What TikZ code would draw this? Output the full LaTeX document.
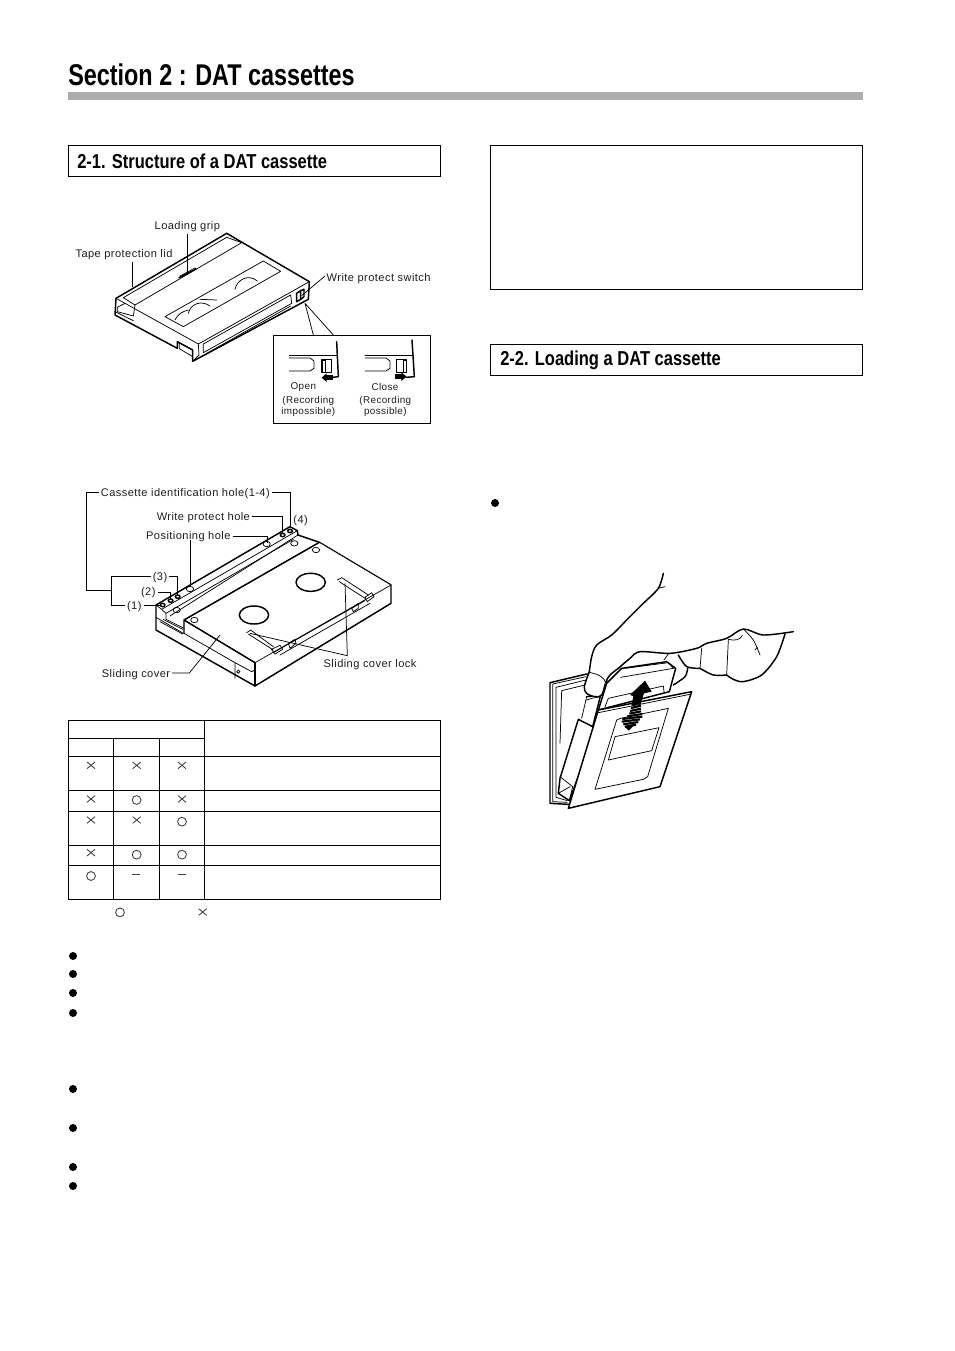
\documentclass[tikz,border=0pt]{standalone}
\usepackage{fontspec}
\setmainfont{Liberation Sans}
\newfontfamily\condbold[FakeStretch=0.78]{Liberation Sans Bold}
\newfontfamily\headbold[FakeStretch=0.82]{Liberation Sans Bold}
\newfontfamily\lblfont[LetterSpace=4]{Liberation Sans}
\tikzset{
 thk/.style={line width=1.1pt,line join=round,line cap=round},
 thn/.style={line width=.55pt,line join=round,line cap=round},
 lead/.style={line width=.55pt},
 lbl/.style={inner sep=0pt,outer sep=1.5pt,yshift=-.8pt,font=\lblfont\fontsize{8.3}{10}\selectfont,text=black!88},
 sm/.style={inner sep=0pt,align=center,font=\lblfont\fontsize{7.4}{8.3}\selectfont,text=black!88},
 headbox/.style={draw,line width=.7pt},
 head/.style={inner sep=0pt,anchor=west,font=\headbold\fontsize{15.1}{17}\selectfont},
 bul/.style={circle,fill=black,inner sep=0pt,minimum size=6pt},
 grid/.style={line width=.8pt},
 sym/.style={line width=.65pt,draw=black!75}
}
\newcommand{\crossat}[2]{\draw[sym] (#1-12,#2-10)--(#1+12,#2+10) (#1-12,#2+10)--(#1+12,#2-10);}
\newcommand{\ringat}[2]{\draw[sym] (#1,#2) circle[radius=3.3pt];}
\newcommand{\dashat}[2]{\draw[sym] (#1-12,#2)--(#1+12,#2);}
\begin{document}
\begin{tikzpicture}[x=.75pt,y=-.75pt]
\useasboundingbox (0,0) rectangle (954,1351);
\fill[white] (0,0) rectangle (954,1351);
% title
\node[inner sep=0pt,anchor=west,font=\condbold\fontsize{22.5}{26}\selectfont] (title) at (68,75) {Section 2 : DAT cassettes};
\fill[black!32] (68,92) rectangle (863,100);
% heading boxes
\draw[headbox] (68.5,145.8) rectangle (440.5,176.5);
\node[head] (h1) at (77,161.5) {2-1. Structure of a DAT cassette};
\draw[headbox] (490.5,145.8) rectangle (862.5,289.5);
\draw[headbox] (490.5,344.8) rectangle (862.5,375.5);
\node[head] (h2) at (500,360) {2-2. Loading a DAT cassette};
% cassette 1
\begin{scope}[shift={(60,200)},x=.25pt,y=-.25pt]
\draw[thk,fill=white] (168,295)--(500,100)--(748,245)--(745,298)--(398,484)--(398,450)--(352,425)--(352,445)--(165,345)--cycle;
\draw[thn] (168,295)--(415,432)--(748,245);
\draw[thn] (415,432)--(417,465)--(398,484);
\draw[thn] (190,293)--(500,112)--(545,128)--(225,315)--(190,293);
\draw[thn] (172,322)--(195,310) (172,322)--(172,335)--(220,348)--(225,315);
\draw[thn] (165,335)--(220,362);
\draw[thn] (352,425)--(398,450) (358,430)--(358,446)--(398,470);
\draw[thn] (430,432)--(430,458)--(695,310)--(692,285)--cycle;
\draw[thn] (437,462)--(692,318);
\draw[thn] (315,350)--(610,183)--(662,214)--(370,380)--cycle;
\draw[thn] (385,340) .. controls (392,310) and (425,300) .. (450,318) (345,360) .. controls (355,340) and (368,335) .. (385,330);
\draw[thn] (420,298)--(470,300);
\draw[thn] (525,268) .. controls (530,240) and (565,220) .. (592,243);
\draw[thk] (357,233)--(408,207);
\draw[thn] (360,228)--(405,204)--(408,207);
\draw[thk] (710,280)--(722,272)--(722,298)--(710,305)--cycle;
\draw[thk] (722,272)--(732,268)--(732,290)--(722,298);
\node[lbl] (l-grip) at (382,76) {Loading grip};
\node[lbl] (l-lid) at (192,160) {Tape protection lid};
\node[lbl] (l-wp) at (956,233) {Write protect switch};
\coordinate (e-grip) at (383,225);
\coordinate (e-lid) at (218,262);
\coordinate (e-wp) at (725,287);
\draw[lead] (l-grip.south-|e-grip)--(e-grip);
\draw[lead] (l-lid.south-|e-lid)--(e-lid);
\draw[lead] (795,228)--(e-wp);
% inset
\node[draw,line width=.7pt,minimum width=118pt,minimum height=65.75pt,inner sep=0pt,anchor=north west] (inset) at (638,405) {};
\coordinate (e-z) at (735,310);
\draw[lead] (e-z)--(760,405) (e-z)--(820,405);
\draw[thn] (688,465)--(832,465);
\draw[thk] (830,425)--(835,530)--(818,532);
\draw[thn] (688,474)--(750,474)--(762,483)--(762,505)--(750,513)--(688,513);
\draw[thk] (785,478) rectangle (815,518);
\draw[thn] (787,482) rectangle (795,518);
\fill (820,525) rectangle (798,541);
\fill (800,520)--(785,533)--(800,546)--cycle;
\draw[thn] (915,465)--(1060,465);
\draw[thk] (1056,420)--(1063,530)--(1040,532);
\draw[thn] (915,474)--(978,474)--(990,483)--(990,505)--(978,513)--(915,513);
\draw[thk] (1010,478) rectangle (1040,518);
\draw[thn] (1030,482) rectangle (1038,518);
\fill (1004,522) rectangle (1026,538);
\fill (1024,517)--(1040,530)--(1024,543)--cycle;
\node[sm] (t-open) at (730,561) {Open};
\node[sm] (t-close) at (975,561) {Close};
\node[sm] (t-imp) at (745,618) {(Recording\\impossible)};
\node[sm] (t-pos) at (976,618) {(Recording\\possible)};
\end{scope}
% cassette 2
\begin{scope}[shift={(60,480)},x=.25pt,y=-.25pt]
\draw[thk,fill=white] (288,375)--(690,140)--(712,152)--(714,165)--(778,187)--(993,315)--(993,370)--(585,618)--(288,450)--cycle;
\draw[thn] (288,375)--(305,388)--(712,152);
\draw[thn] (305,388)--(318,400)--(318,418)--(372,445);
\draw[thn] (318,400)--(700,178);
\draw[thn] (330,408)--(714,165);
\draw[thn] (288,412)--(370,460);
\draw[thn] (300,425)--(368,462) (310,418)--(368,448);
\draw[thn,fill=white] (372,420)--(778,187)--(993,315)--(585,548)--cycle;
\draw[thk] (372,460)--(372,420)--(778,187) (372,420)--(585,548);
\draw[thk] (585,548)--(585,618);
\draw[thn] (372,460)--(525,548)--(525,595);
\draw[thn] (525,548)--(575,575)--(585,570);
\draw[thn] (535,575) circle[radius=5];
\foreach \p/\n in {(350,390)/a,(403,420)/b,(620,192)/c,(703,190)/d,(768,210)/e,(390,327)/f}
  \draw[thn] \p ellipse[x radius=11,y radius=8];
\foreach \p/\n in {(308,375)/a,(332,362)/b,(353,350)/c,(668,165)/d,(690,153)/e}
  \draw[thk] \p ellipse[x radius=7,y radius=5];
\draw[thk] (582,405) ellipse[x radius=44,y radius=27];
\draw[thk] (752,307) ellipse[x radius=44,y radius=27];
% locks
\draw[thn] (560,458)--(572,450)--(640,500) (565,462)--(640,510);
\draw[thn] (634,508)--(660,496)--(668,508)--(645,522)--cycle;
\draw[thn] (832,300)--(845,293)--(925,345) (838,305)--(915,355);
\draw[thn] (915,352)--(935,338)--(942,350)--(922,365)--cycle;
\draw[thn] (640,518)--(915,362) (660,525)--(930,370);
\draw[thn] (685,490)--(705,478)--(708,490)--(690,505)--cycle;
\draw[thn] (875,385)--(895,370)--(895,385)--(880,395)--cycle;
\node[lbl] (l-id) at (376,37) {Cassette identification hole(1-4)};
\node[lbl] (l-wh) at (430,110) {Write protect hole};
\node[lbl] (l-ph) at (385,168) {Positioning hole};
\node[lbl] (n4) at (722,119) {(4)};
\node[lbl] (n3) at (300,290) {(3)};
\node[lbl] (n2) at (265,336) {(2)};
\node[lbl] (n1) at (223,376) {(1)};
\node[lbl] (l-sc) at (228,582) {Sliding cover};
\node[lbl] (l-sl) at (930,551) {Sliding cover lock};
\coordinate (j1) at (155,332);
\coordinate (e4) at (692,145);
\coordinate (ewh) at (668,160);
\coordinate (eph) at (622,188);
\coordinate (eph2) at (390,322);
\coordinate (e3) at (353,345);
\coordinate (e2) at (332,358);
\coordinate (e1) at (300,376);
\coordinate (esc) at (480,465);
\coordinate (jsc) at (388,579);
\coordinate (esl1) at (570,460);
\coordinate (esl2) at (855,310);
\coordinate (jsl) at (862,527);
\coordinate (y-id) at (0,37);
\coordinate (y-three) at (0,290);
\coordinate (y-one) at (0,376);
\coordinate (y-wh) at (0,110);
\coordinate (y-ph) at (0,168);
\coordinate (y-two) at (0,336);
\coordinate (y-sc) at (0,579);
\draw[lead] (l-id.west|-y-id)--(80,37)--(80,332)--(j1);
\draw[lead] (n3.west|-y-three)--(155,290)--(155,376)--(n1.west|-y-one);
\draw[lead] (l-id.east|-y-id)--(692,37)--(e4);
\draw[lead] (l-wh.east|-y-wh)--(668,110)--(ewh);
\draw[lead] (l-ph.east|-y-ph)--(622,168)--(eph);
\draw[lead] (390,180)--(eph2);
\draw[lead] (n3.east|-y-three)--(353,290)--(e3);
\draw[lead] (n2.east|-y-two)--(332,336)--(e2);
\draw[lead] (n1.east|-y-one)--(e1);
\draw[lead] (l-sc.east|-y-sc)--(jsc)--(esc);
\draw[lead] (esl1)--(jsl)--(esl2);
\end{scope}
% table
\begin{scope}[shift={(60,710)},x=.25pt,y=-.25pt]
\draw[grid] (25,32) rectangle (1141,568);
\draw[grid] (25,85)--(433,85) (25,139)--(1141,139) (25,241)--(1141,241) (25,304)--(1141,304) (25,406)--(1141,406) (25,466)--(1141,466);
\draw[grid] (160,85)--(160,568) (298,85)--(298,568) (433,32)--(433,568);
\crossat{93}{166}\crossat{230}{166}\crossat{366}{166}
\crossat{93}{267}\ringat{230}{270}\crossat{366}{267}
\crossat{93}{330}\crossat{230}{330}\ringat{366}{335}
\crossat{93}{428}\ringat{230}{434}\ringat{366}{434}
\ringat{93}{498}\dashat{228}{492}\dashat{366}{492}
\ringat{180}{607}\crossat{428}{606}
\end{scope}
% bullets
\foreach \y/\n in {956/a,974/b,993/c,1013/d,1089/e,1128/f,1167/g,1186/h}
  \node[bul] (b\n) at (73,\y) {};
\node[bul] (bi) at (495,503) {};
% hand and cassette
\begin{scope}[shift={(530,560)},x=.25pt,y=-.25pt]
% back frame
\draw[thk,fill=white] (60,368)--(170,342)--(230,360)--(200,715)--(115,733)--(60,730)--cycle;
\draw[thn] (68,372)--(168,350) (68,372)--(68,725)--(112,727);
\draw[thn] (78,382)--(168,360) (78,382)--(78,712)--(112,722);
\draw[thn] (95,392)--(90,550) (95,392)--(165,375);
% cassette body
\draw[thk,fill=white] (275,325)--(410,305)--(437,325)--(418,395)--(205,450)--(230,370)--cycle;
\draw[thn] (272,352)--(430,325);
\draw[thn] (285,325)--(415,308)--(430,325);
\draw[thn] (225,440)--(235,415)--(400,378)--(402,395);
% side of cassette
\draw[thk,fill=white] (170,410)--(212,405)--(188,500)--(145,478)--(90,655)--(85,700)--(118,722)--(200,500);
\draw[thn] (155,475)--(170,410) (170,420)--(185,415)--(210,410);
\draw[thn] (90,650)--(128,680)--(118,722) (85,700)--(120,680);
% thumb + arm
\draw[thk,fill=white] plot[smooth,tension=.55] coordinates {(178,335)(163,380)(170,400)(195,410)(215,405)(228,365)(240,345)(265,325)};
\draw[thn,fill=white] plot[smooth,tension=.55] coordinates {(178,337)(205,345)(222,358)(228,372)};
\draw[thk] plot[smooth,tension=.5] coordinates {(400,40)(385,85)(340,130)(290,180)(245,225)(200,255)(185,290)(178,335)};
\draw[thn] (385,85)--(405,80);
\draw[thk] plot[smooth,tension=.5] coordinates {(265,325)(300,295)(330,275)(420,280)(500,265)(530,250)(590,235)(640,207)(700,225)(790,215)};
\draw[thn] plot[smooth,tension=.5] coordinates {(640,207)(670,240)(690,285)};
\draw[thn] (675,270)--(682,262);
\draw[thn] (595,238) .. controls (615,243) and (630,240) .. (637,226);
\draw[thk] plot[smooth,tension=.5] coordinates {(765,222)(740,290)(695,345)(640,365)(610,358)(590,345)};
\draw[thk] plot[smooth,tension=.5] coordinates {(590,345)(550,345)(510,325)};
\draw[thn] (590,345)--(595,240) (510,325)--(515,265);
\draw[thk] plot[smooth,tension=.5] coordinates {(510,325)(470,320)(445,285)};
\draw[thn] (415,282)--(402,300);
\draw[thk] plot[smooth,tension=.5] coordinates {(473,325)(465,350)(430,375)};
% arrow up
\fill (300,405)--(345,362)--(365,395)--(342,400)--(334,425)--(306,432)--(310,408)--cycle;
% front lid
\draw[thk,fill=white] (115,745)--(205,450)--(485,395)--(390,680)--cycle;
\draw[thn] (205,458)--(480,403);
\draw[thn] (195,688)--(260,480)--(272,475)--(415,445)--(353,650)--(340,658)--cycle;
\draw[thn] (235,600)--(255,530)--(387,503)--(365,572)--cycle;
% striped arrow
\foreach \ya/\xa/\xb in {432/305/333,441/303/333,450/300/333,458/298/333,466/292/337,474/277/337,482/275/330,490/280/325,498/285/318}
  \draw[line width=1.6pt] (\xa,\ya+3)--(\xb,\ya-4);
\fill (283,498)--(318,490)--(296,512)--cycle;
\end{scope}
\end{tikzpicture}
\end{document}
